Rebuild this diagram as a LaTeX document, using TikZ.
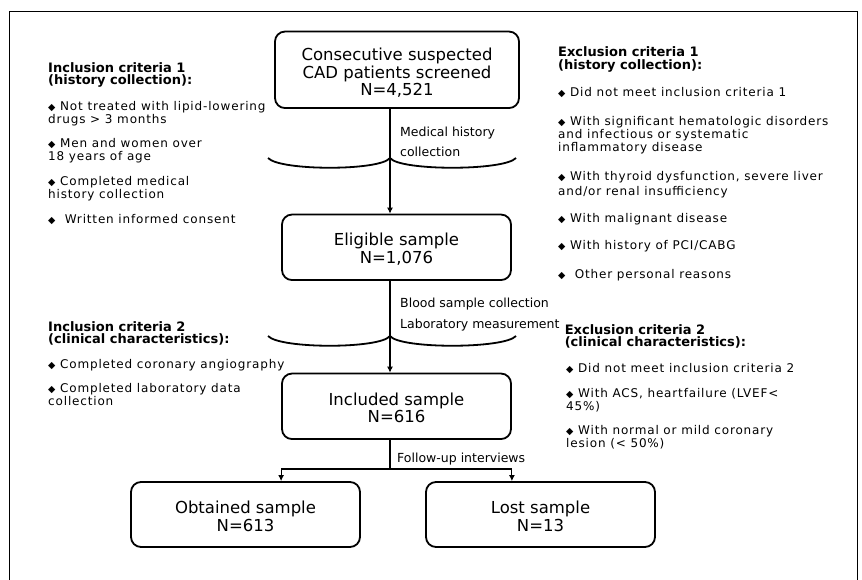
\documentclass[tikz,border=0pt]{standalone}
\usepackage{fontspec}
\setmainfont{DejaVu Sans}
\newfontfamily\sidefont[LetterSpace=7]{DejaVu Sans}
\newfontfamily\headfont{DejaVu Sans}
\usetikzlibrary{arrows.meta}
\newcommand{\dmd}{{\fontsize{9.5}{9.5}\selectfont ◆}}
\tikzset{
  box/.style={draw, line width=1.8pt, rounded corners=10pt, align=center,
    font=\fontsize{16.5}{17.5}\selectfont, inner sep=0pt},
  sidetxt/.style={align=left, inner sep=0pt, anchor=base west,
    font=\sidefont\fontsize{12}{13}\selectfont},
  headtxt/.style={align=left, inner sep=0pt, anchor=base west,
    font=\headfont\bfseries\fontsize{13}{12.2}\selectfont},
  midtxt/.style={align=left, inner sep=0pt, anchor=base west},
  conn/.style={line width=1.1pt},
  arr/.style={conn, -{Latex[length=6pt,width=6pt]}},
  bracel/.style={line width=1.8pt}
}
\begin{document}
\begin{tikzpicture}[x=1pt,y=-1pt]
\useasboundingbox (0,0) rectangle (862,580);
% frame
\draw[line width=1.2pt] (9.5,585) -- (9.5,11.5) -- (857.5,11.5) -- (857.5,585);

% boxes
\node[box, minimum width=244pt, minimum height=76.5pt] (b1) at (397,69.8)
  {\rule{0pt}{19pt}Consecutive suspected\\CAD patients screened\\N=4,521};
\node[box, minimum width=229pt, minimum height=65.5pt] (b2) at (396.5,247.3)
  {\rule{0pt}{16pt}Eligible sample\\N=1,076};
\node[box, minimum width=229pt, minimum height=65.5pt] (b3) at (396.5,406.3)
  {\rule{0pt}{16pt}Included sample\\N=616};
\node[box, minimum width=229pt, minimum height=65pt] (b4) at (245.5,514.5)
  {\rule{0pt}{16pt}Obtained sample\\N=613};
\node[box, minimum width=229pt, minimum height=65pt] (b5) at (540.5,514.5)
  {\rule{0pt}{16pt}Lost sample\\N=13};

% connectors
\coordinate (ax) at (390,0);
\coordinate (sp) at (390,469);
\draw[arr] (b1.south -| ax) -- (b2.north -| ax);
\draw[arr] (b2.south -| ax) -- (b3.north -| ax);
\draw[conn] (b3.south -| sp) -- (sp);
\draw[arr] (sp) -| (b4.north -| b3.west);
\draw[arr] (sp) -| (b5.north -| b3.east);

% braces
\draw[bracel] (268,158) .. controls (280,171) and (380,171) .. (390,158)
  .. controls (400,171) and (504,171) .. (516,158);
\draw[bracel] (268,336) .. controls (280,349) and (380,349) .. (390,336)
  .. controls (400,349) and (504,349) .. (516,336);

% middle labels
\node[midtxt, font=\fontsize{12.5}{20}\selectfont] (m1) at (400,156.5)
  {Medical history\\collection};
\node[midtxt, font=\fontsize{12.5}{21}\selectfont] (m2) at (400,328.5)
  {Blood sample collection\\Laboratory measurement};
\node[midtxt, font=\fontsize{12.5}{15}\selectfont] (m3) at (397,462.5)
  {Follow-up interviews};

% left column
\node[headtxt] (h1) at (48,84.5) {Inclusion criteria 1\\(history collection):};
\node[sidetxt] (l1) at (48,123.5) {\dmd\ Not treated with lipid-lowering\\drugs > 3 months};
\node[sidetxt] (l2) at (48,160.5) {\dmd\ Men and women over\\18 years of age};
\node[sidetxt] (l3) at (48,198.6) {\dmd\ Completed medical\\history collection};
\node[sidetxt] (l4) at (48,223.4) {\dmd\ \ Written informed consent};
\node[headtxt] (h2) at (48,343.5) {Inclusion criteria 2\\(clinical characteristics):};
\node[sidetxt] (l5) at (48,368.4) {\dmd\ Completed coronary angiography};
\node[sidetxt] (l6) at (48,405.4) {\dmd\ Completed laboratory data\\collection};

% right column
\node[headtxt] (h3) at (558,69.2) {Exclusion criteria 1\\(history collection):};
\node[sidetxt] (r1) at (558,96.5) {\dmd\ Did not meet inclusion criteria 1};
\node[sidetxt, font=\sidefont\fontsize{12}{13.3}\selectfont] (r2) at (558,152) {\dmd\ With significant hematologic disorders\\and infectious or systematic\\inflammatory disease};
\node[sidetxt, font=\sidefont\fontsize{12}{15}\selectfont] (r3) at (558,195.3) {\dmd\ With thyroid dysfunction, severe liver\\and/or renal insufficiency};
\node[sidetxt] (r4) at (558,222.3) {\dmd\ With malignant disease};
\node[sidetxt] (r5) at (558,250) {\dmd\ With history of PCI/CABG};
\node[sidetxt] (r6) at (558,278.5) {\dmd\ \ Other personal reasons};
\node[headtxt] (h4) at (564.6,346.5) {Exclusion criteria 2\\(clinical characteristics):};
\node[sidetxt] (r7) at (566,372) {\dmd\ Did not meet inclusion criteria 2};
\node[sidetxt] (r8) at (566,410) {\dmd\ With ACS, heartfailure (LVEF<\\45\%)};
\node[sidetxt] (r9) at (566,447) {\dmd\ With normal or mild coronary\\lesion (< 50\%)};
\end{tikzpicture}
\end{document}
